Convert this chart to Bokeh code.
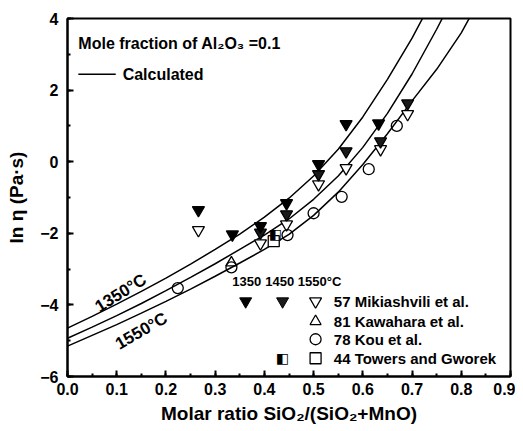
from bokeh.plotting import figure
from bokeh.models import SingleIntervalTicker, NumeralTickFormatter
from bokeh.core.properties import value
from bokeh.embed import file_html
from bokeh.resources import INLINE

# ---- data ----
curve_x_1350 = [0, 0.05, 0.1, 0.15, 0.2, 0.25, 0.3, 0.35, 0.4, 0.45, 0.5, 0.55, 0.6, 0.65, 0.7, 0.725]
curve_y_1350 = [-4.65, -4.32, -3.98, -3.62, -3.25, -2.86, -2.45, -2.02, -1.55, -1.02, -0.40, 0.35, 1.25, 2.30, 3.45, 4.10]
curve_x_1450 = [0, 0.05, 0.1, 0.15, 0.2, 0.25, 0.3, 0.35, 0.4, 0.45, 0.5, 0.55, 0.6, 0.65, 0.7, 0.75, 0.765]
curve_y_1450 = [-4.93, -4.62, -4.30, -3.96, -3.60, -3.23, -2.85, -2.45, -2.05, -1.60, -1.05, -0.40, 0.40, 1.35, 2.45, 3.70, 4.10]
curve_x_1550 = [0, 0.05, 0.1, 0.15, 0.2, 0.25, 0.3, 0.35, 0.4, 0.45, 0.5, 0.55, 0.6, 0.65, 0.7, 0.75, 0.8, 0.82]
curve_y_1550 = [-5.15, -4.85, -4.55, -4.23, -3.90, -3.56, -3.20, -2.83, -2.45, -2.03, -1.50, -0.85, -0.08, 0.78, 1.70, 2.58, 3.60, 4.10]

mik_1350_x = [0.266, 0.335, 0.392, 0.445, 0.510, 0.566, 0.632]
mik_1350_y = [-1.35, -2.03, -1.80, -1.16, -0.07, 1.05, 1.07]
mik_1450_x = [0.392, 0.445, 0.510, 0.566, 0.636, 0.691]
mik_1450_y = [-1.98, -1.47, -0.35, 0.29, 0.57, 1.63]
mik_1550_x = [0.266, 0.392, 0.445, 0.510, 0.566, 0.636, 0.691]
mik_1550_y = [-1.91, -2.28, -1.75, -0.63, -0.18, 0.35, 1.33]
kaw_1550_x = [0.333]
kaw_1550_y = [-2.82]
kou_1550_x = [0.224, 0.333, 0.447, 0.500, 0.557, 0.612, 0.669]
kou_1550_y = [-3.53, -2.95, -2.05, -1.44, -0.98, -0.21, 1.00]
tow_1450_x = [0.423]
tow_1450_y = [-2.03]
tow_1550_x = [0.419]
tow_1550_y = [-2.22]

x_ticks_interval = 0.1
y_ticks_interval = 2

FONT = "Liberation Sans"

p = figure(width=515, height=428, x_range=(0, 0.9), y_range=(-6, 4),
           output_backend="svg", toolbar_location=None,
           min_border_left=67, min_border_right=5, min_border_top=18, min_border_bottom=52)
p.xgrid.visible = False
p.ygrid.visible = False
p.outline_line_color = "black"
p.outline_line_width = 2
p.background_fill_color = "white"

for ax in (p.xaxis[0], p.yaxis[0]):
    ax.axis_line_width = 2
    ax.major_tick_in = 6
    ax.major_tick_out = 0
    ax.minor_tick_in = 3
    ax.minor_tick_out = 0
    ax.major_tick_line_width = 2
    ax.minor_tick_line_width = 2
    ax.major_label_text_font = FONT
    ax.major_label_text_font_style = "bold"
    ax.major_label_text_font_size = "16px"
    ax.major_label_text_color = "black"
    ax.axis_label_text_font = FONT
    ax.axis_label_text_font_style = "bold"
    ax.axis_label_text_font_size = "19px"
    ax.axis_label_text_color = "black"

p.xaxis.ticker = SingleIntervalTicker(interval=x_ticks_interval, num_minor_ticks=2)
p.yaxis.ticker = SingleIntervalTicker(interval=y_ticks_interval, num_minor_ticks=2)
p.xaxis.formatter = NumeralTickFormatter(format="0.0")
p.xaxis.major_label_standoff = 6
p.yaxis.major_label_standoff = 9
p.xaxis.axis_label = "Molar ratio SiO\u2082/(SiO\u2082+MnO)"
p.yaxis.axis_label = "ln \u03b7 (Pa\u00b7s)"
p.xaxis.axis_label_standoff = 5
p.yaxis.axis_label_standoff = 10

# curves
for cx, cy in ((curve_x_1350, curve_y_1350), (curve_x_1450, curve_y_1450), (curve_x_1550, curve_y_1550)):
    p.line(cx, cy, line_color="black", line_width=1.5)

S = 11
p.scatter(mik_1550_x, mik_1550_y, marker="inverted_triangle", size=S + 1, fill_color="white", line_color="black", line_width=1.3)
p.scatter(mik_1450_x, mik_1450_y, marker="inverted_triangle", size=S + 1, fill_color="#1a1a1a", line_color="black", line_width=1.3)
p.scatter(mik_1350_x, mik_1350_y, marker="inverted_triangle", size=S + 1, fill_color="black", line_color="black", line_width=1.3)
p.scatter(kou_1550_x, kou_1550_y, marker="circle", size=S, fill_color="white", fill_alpha=0, line_color="black", line_width=1.3)
p.scatter(kaw_1550_x, kaw_1550_y, marker="triangle", size=S, fill_color="white", fill_alpha=0, line_color="black", line_width=1.3)
p.scatter(tow_1550_x, tow_1550_y, marker="square", size=S, fill_color="white", line_color="black", line_width=1.3)
p.text(tow_1450_x, tow_1450_y, text=["\u25e7"], text_font=value("DejaVu Sans"), text_font_size="14px",
       text_align="center", text_baseline="middle", text_color="black")

# annotations
p.text([0.022], [3.31], text=["Mole fraction of Al\u2082O\u2083 =0.1"], text_font=value(FONT),
       text_font_style="bold", text_font_size="16px", text_baseline="middle", text_color="black")
p.line([0.022, 0.098], [2.44, 2.44], line_color="black", line_width=1.5)
p.text([0.112], [2.44], text=["Calculated"], text_font=value(FONT),
       text_font_style="bold", text_font_size="16px", text_baseline="middle", text_color="black")
p.text([0.108], [-3.67], text=["1350\u00b0C"], angle=0.555, text_font=value(FONT), text_font_style="bold",
       text_font_size="17px", text_align="center", text_baseline="middle", text_color="black")
p.text([0.150], [-4.73], text=["1550\u00b0C"], angle=0.52, text_font=value(FONT), text_font_style="bold",
       text_font_size="17px", text_align="center", text_baseline="middle", text_color="black")

# custom legend
hdr_y = -3.34
p.text([0.364, 0.431], [hdr_y, hdr_y], text=["1350", "1450"], text_font=value(FONT), text_font_style="bold",
       text_font_size="13px", text_align="center", text_baseline="middle", text_color="black")
p.text([0.468], [hdr_y], text=["1550\u00b0C"], text_font=value(FONT), text_font_style="bold",
       text_font_size="13px", text_align="left", text_baseline="middle", text_color="black")
rows = [-3.90, -4.46, -4.96, -5.49]
c1, c2, c3 = 0.362, 0.437, 0.504
p.scatter([c1], [rows[0]], marker="inverted_triangle", size=S + 1, fill_color="black", line_color="black")
p.scatter([c2], [rows[0]], marker="inverted_triangle", size=S + 1, fill_color="#1a1a1a", line_color="black")
p.scatter([c3], [rows[0]], marker="inverted_triangle", size=S + 1, fill_color="white", line_color="black", line_width=1.3)
p.scatter([c3], [rows[1]], marker="triangle", size=S, fill_color="white", line_color="black", line_width=1.3)
p.scatter([c3], [rows[2]], marker="circle", size=S, fill_color="white", line_color="black", line_width=1.3)
p.scatter([c3], [rows[3]], marker="square", size=S, fill_color="white", line_color="black", line_width=1.3)
p.text([c2], [rows[3]], text=["\u25e7"], text_font=value("DejaVu Sans"), text_font_size="14px",
       text_align="center", text_baseline="middle", text_color="black")
labels = ["57 Mikiashvili et al.", "81 Kawahara et al.", "78 Kou et al.", "44 Towers and Gworek"]
p.text([0.541] * 4, rows, text=labels, text_font=value(FONT), text_font_style="bold",
       text_font_size="15px", text_baseline="middle", text_color="black")

open("out.html", "w").write(file_html(p, INLINE))
